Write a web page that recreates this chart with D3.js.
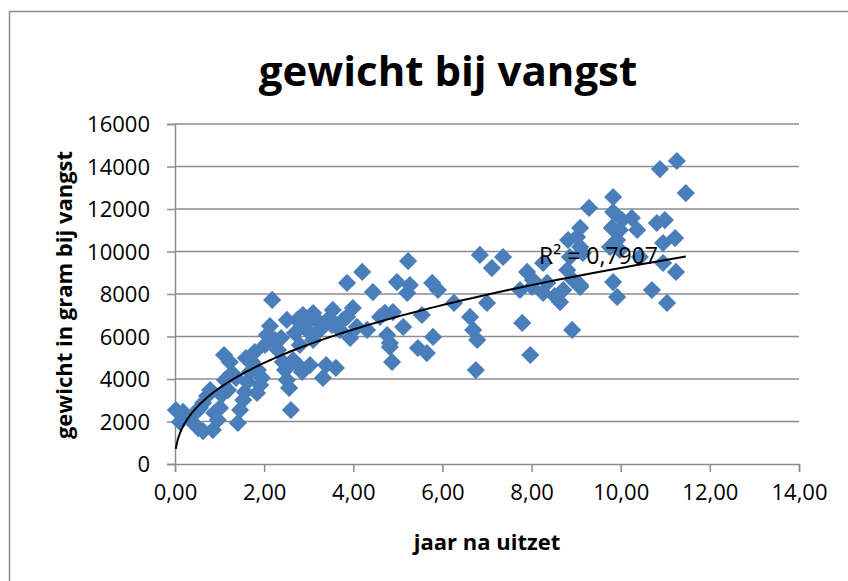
<!DOCTYPE html>
<html>
<head>
<meta charset="utf-8">
<script src="https://cdn.jsdelivr.net/npm/d3@7"></script>
<style>
  html, body { margin: 0; padding: 0; background: #fff; }
  svg { display: block; font-family: "Open Sans", "Liberation Sans", sans-serif; }
</style>
</head>
<body>
<svg id="chart" width="848" height="581"></svg>
<script>
// jaar na uitzet (x) and gewicht in gram bij vangst (y)
const jaren = [
  0.02, 0.18, 0.11, 0.34, 0.47, 0.56, 0.63, 0.72, 0.79, 0.52, 0.63, 0.85, 0.96, 0.88, 1.01, 1.05,
  1.12, 1.10, 1.23, 1.28, 1.19, 1.37, 1.41, 1.53, 1.46, 1.57, 1.62, 1.68, 1.73, 1.79, 1.59, 1.86,
  1.91, 1.95, 1.84, 2.02, 2.06, 2.13, 2.18, 2.24, 2.31, 2.38, 2.42, 2.47, 2.51, 2.56, 2.60, 2.65,
  2.69, 2.74, 2.80, 2.87, 2.92, 2.96, 2.80, 2.76, 2.85, 3.03, 3.10, 3.14, 3.21, 3.25, 3.32, 3.39,
  3.46, 3.52, 3.61, 3.70, 3.77, 3.86, 4.20, 4.44, 3.54, 3.99, 3.86, 4.08, 4.31, 3.93, 4.60, 4.76,
  4.82, 3.10, 2.51, 6.84, 7.36, 7.11, 5.23, 4.98, 5.27, 5.21, 5.77, 5.90, 6.26, 5.54, 4.71, 4.89,
  5.12, 4.82, 4.87, 5.45, 5.65, 5.79, 6.62, 6.69, 6.78, 7.00, 6.75, 7.79, 7.97, 7.90, 7.74, 8.01,
  8.26, 8.64, 8.91, 8.80, 9.09, 9.83, 9.92, 8.82, 11.26, 10.88, 11.46, 9.83, 9.29, 9.83, 10.25, 10.03,
  9.09, 10.81, 10.99, 9.80, 9.98, 10.37, 9.02, 9.92, 9.76, 11.22, 10.95, 9.09, 9.15, 8.86, 10.95, 10.43,
  9.98, 8.26, 8.03, 8.35, 8.93, 9.09, 8.71, 10.70, 11.04, 11.24, 8.52
];
const gewicht = [
  2540, 2450, 1980, 2070, 2450, 2640, 2870, 3200, 3480, 1690, 1550, 1600, 2070, 2400, 2640, 3250,
  3950, 5130, 4800, 4280, 3480, 4050, 1930, 3010, 2540, 3390, 3860, 4330, 4800, 5270, 4990, 4420,
  3720, 4050, 3340, 5600, 6070, 6490, 7720, 5840, 5360, 5930, 4800, 4420, 3950, 3580, 2540, 4890,
  6160, 6780, 6870, 7010, 6540, 6310, 5600, 4660, 4330, 4660, 5840, 6870, 6680, 6310, 4050, 4660,
  6870, 6540, 4520, 6310, 6780, 8520, 9040, 8090, 7250, 7340, 6920, 6450, 6310, 5930, 6920, 6070,
  5510, 7100, 6780, 9840, 9740, 9220, 9550, 8560, 8420, 8050, 8520, 8190, 7580, 7010, 7110, 7150,
  6450, 5690, 4800, 5460, 5220, 5980, 6920, 6310, 5840, 7580, 4420, 6640, 5130, 9040, 8190, 8330,
  8050, 7620, 6310, 9130, 8420, 8560, 7860, 10540, 14260, 13880, 12750, 12560, 12050, 11860, 11580, 11480,
  11110, 11340, 11480, 11110, 11010, 11010, 10680, 10540, 10210, 10630, 10400, 10210, 9930, 9740, 9460, 9740,
  10070, 9460, 8660, 8520, 8660, 8330, 8190, 8190, 7580, 9040, 7900
];

const xTicks = [0, 2, 4, 6, 8, 10, 12, 14];
const yTicks = [0, 2000, 4000, 6000, 8000, 10000, 12000, 14000, 16000];
const rSquaredLabel = 'R² = 0,7907';

const points = jaren.map((x, i) => ({ x: x, y: gewicht[i] }));

const svg = d3.select('#chart');

// chart area border (runs off the right and bottom edge)
svg.append('rect')
  .attr('x', 9.5).attr('y', 11.5)
  .attr('width', 900).attr('height', 700)
  .attr('fill', '#fff')
  .attr('stroke', '#8c8c8c')
  .attr('stroke-width', 1.5);

const x = d3.scaleLinear().domain([0, 14]).range([175, 799]);
const y = d3.scaleLinear().domain([0, 16000]).range([464, 124]);

const fmtX = v => d3.format('.2f')(v).replace('.', ',');

// gridlines
svg.append('g')
  .selectAll('line')
  .data(yTicks.slice(1))
  .join('line')
  .attr('x1', x(0)).attr('x2', x(14))
  .attr('y1', d => y(d)).attr('y2', d => y(d))
  .attr('stroke', '#8c8c8c')
  .attr('stroke-width', 1.5);

// y axis
const yAxis = svg.append('g')
  .attr('transform', `translate(${x(0)},0)`)
  .call(d3.axisLeft(y).tickValues(yTicks).tickSize(8).tickPadding(17).tickFormat(d3.format('d')));
// x axis
const xAxis = svg.append('g')
  .attr('transform', `translate(0,${y(0)})`)
  .call(d3.axisBottom(x).tickValues(xTicks).tickSize(8).tickPadding(12).tickFormat(fmtX));

[yAxis, xAxis].forEach(ax => {
  ax.select('.domain').attr('stroke', '#8c8c8c').attr('stroke-width', 1.5);
  ax.selectAll('.tick line').attr('stroke', '#8c8c8c').attr('stroke-width', 1.5);
  ax.selectAll('.tick text')
    .attr('fill', '#000')
    .style('font-family', '"Open Sans", sans-serif')
    .style('font-size', '22px');
});
yAxis.selectAll('.tick text').attr('dy', '0.36em');

// markers
const diamond = d3.symbol().type(d3.symbolSquare).size(165);
svg.append('g')
  .selectAll('path')
  .data(points)
  .join('path')
  .attr('d', diamond)
  .attr('transform', d => `translate(${x(d.x)},${y(d.y)}) rotate(45)`)
  .attr('fill', '#4a7ebb');

// power trendline fitted on the data (least squares in log-log)
const lx = points.map(p => Math.log(p.x));
const ly = points.map(p => Math.log(p.y));
const mx = d3.mean(lx), my = d3.mean(ly);
const slope = d3.sum(lx, (v, i) => (v - mx) * (ly[i] - my)) / d3.sum(lx, v => (v - mx) * (v - mx));
const coef = Math.exp(my - slope * mx);
const [xMin, xMax] = d3.extent(jaren);
const trend = d3.range(0, 201).map(i => {
  const t = xMin * Math.pow(xMax / xMin, i / 200);
  return { x: t, y: coef * Math.pow(t, slope) };
});
svg.append('path')
  .datum(trend)
  .attr('fill', 'none')
  .attr('stroke', '#000')
  .attr('stroke-width', 2)
  .attr('d', d3.line().x(d => x(d.x)).y(d => y(d.y)));

svg.append('text')
  .attr('x', 539).attr('y', 264)
  .style('font-size', '23px')
  .text(rSquaredLabel);

// titles
svg.append('text')
  .attr('x', 448).attr('y', 86)
  .attr('text-anchor', 'middle')
  .style('font-size', '42px')
  .style('font-weight', 'bold')
  .text('gewicht bij vangst');

svg.append('text')
  .attr('x', 487).attr('y', 550)
  .attr('text-anchor', 'middle')
  .style('font-size', '22px')
  .style('font-weight', 'bold')
  .text('jaar na uitzet');

svg.append('text')
  .attr('transform', 'translate(72,295) rotate(-90)')
  .attr('text-anchor', 'middle')
  .style('font-size', '22px')
  .style('font-weight', 'bold')
  .text('gewicht in gram bij vangst');
</script>
</body>
</html>
